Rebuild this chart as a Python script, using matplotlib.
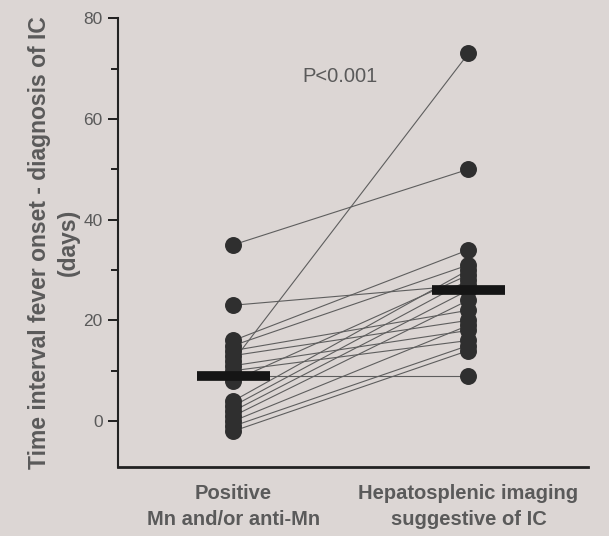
import matplotlib

matplotlib.use("Agg")

import matplotlib.pyplot as plt  # noqa: E402
import numpy as np  # noqa: E402

# paired values (days)
mn_positive = [35, 23, 16, 15, 14, 13, 12, 11, 10, 9, 8, 4, 3, 2, 1, 0, -1, -2]
imaging = [50, 27, 34, 31, 22, 20, 73, 18, 16, 9, 29, 30, 28, 26, 24, 19, 15, 14]
medians = [9, 26]
group_labels = ["Positive\nMn and/or anti-Mn", "Hepatosplenic imaging\nsuggestive of IC"]
y_ticks = [0, 20, 40, 60, 80]
y_minor = [10, 30, 50, 70]

plt.rcParams["font.family"] = ["Liberation Sans", "DejaVu Sans"]

bg = "#dcd6d4"
text_col = "#5a5a5a"

fig = plt.figure(figsize=(6.09, 5.36), dpi=100, facecolor=bg)
ax = fig.add_axes([0.194, 0.129, 0.772, 0.837], facecolor=bg)

for a, b in zip(mn_positive, imaging):
    ax.plot([0, 1], [a, b], color="#5e5e5e", lw=0.8, zorder=1)

ax.scatter(np.zeros(len(mn_positive)), mn_positive, s=125, color="#2f2f2f", zorder=3)
ax.scatter(np.ones(len(imaging)), imaging, s=125, color="#2f2f2f", zorder=3)

for i, m in enumerate(medians):
    ax.plot([i - 0.155, i + 0.155], [m, m], color="#151515", lw=7, solid_capstyle="butt", zorder=4)

ax.text(0.455, 68.5, "P<0.001", color=text_col, fontsize=14.5, ha="center", va="center")

ax.set_xlim(-0.49, 1.51)
ax.set_ylim(-9.1, 80)
ax.set_yticks(y_ticks)
ax.set_yticks(y_minor, minor=True)
ax.set_xticks([0, 1])
ax.set_xticklabels(group_labels, fontsize=14.5, fontweight="bold", color=text_col, linespacing=1.5)
ax.tick_params(axis="x", length=0, pad=12)
ax.tick_params(axis="y", which="major", length=7, width=1.2, labelsize=12.5, labelcolor=text_col, pad=4)
ax.tick_params(axis="y", which="minor", length=5, width=1.2)

ax.spines["top"].set_visible(False)
ax.spines["right"].set_visible(False)
ax.spines["left"].set_linewidth(1.5)
ax.spines["bottom"].set_linewidth(2)
ax.spines["left"].set_color("#222222")
ax.spines["bottom"].set_color("#222222")

ax.set_ylabel("Time interval fever onset - diagnosis of IC\n(days)", fontsize=16.5,
              fontweight="bold", color=text_col, labelpad=3, linespacing=1.3)

fig.savefig("out.png", dpi=100, facecolor=bg)
plt.close(fig)
